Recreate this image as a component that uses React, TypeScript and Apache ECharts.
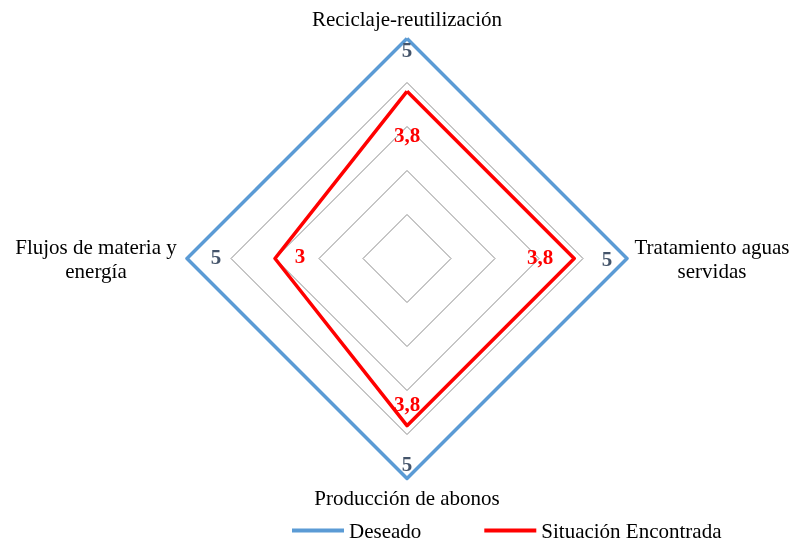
import React, { useEffect, useRef } from "react";
import * as echarts from "echarts";

// Indicators in ECharts radar order (counter-clockwise starting at top)
const indicators = [
  "Reciclaje-reutilización",
  "Flujos de materia y\nenergía",
  "Producción de abonos",
  "Tratamiento aguas\nservidas",
];
const maxValue = 5;
const seriesNames = ["Deseado", "Situación Encontrada"];
const deseado = [5, 5, 5, 5];
const situacion = [3.8, 3, 3.8, 3.8];
const colors = ["#5B9BD5", "#FF0000"];
const labelColors = ["#44546A", "#FF0000"];

// label offsets per dimension (relative to vertex), for [Deseado, Situación]
const labelOffsets: number[][][] = [
  [[0, 11], [0, 44]],
  [[29, -2], [25, -3]],
  [[0, -15], [0, -22]],
  [[-20, 0], [-34, -2]],
];

const FONT = "'Liberation Serif', 'Times New Roman', serif";

const fmt = (v: number) => String(v).replace(".", ",");

export default function App() {
  const ref = useRef<HTMLDivElement>(null);
  useEffect(() => {
    if (!ref.current) return;
    const chart = echarts.init(ref.current, undefined, { renderer: "svg" });
    const values = [deseado, situacion];

    const labelSeries = labelOffsets.map((offs, dim) => ({
      type: "radar",
      silent: true,
      z: 5,
      symbol: "circle",
      symbolSize: 1,
      lineStyle: { opacity: 0, width: 0 },
      itemStyle: { color: "rgba(0,0,0,0)" },
      data: values.map((vals, i) => ({
        name: seriesNames[i] + " #" + dim,
        value: vals,
        label: {
          show: true,
          position: "inside",
          offset: offs[i],
          color: labelColors[i],
          fontFamily: FONT,
          fontWeight: "bold",
          fontSize: 21,
          formatter: (p: any) =>
            p.dimensionIndex === dim ? fmt(p.value as number) : "",
        },
      })),
    }));

    chart.setOption({
      animation: false,
      textStyle: { fontFamily: FONT },
      legend: {
        data: seriesNames,
        left: 287,
        top: 515,
        icon: "rect",
        itemWidth: 52,
        itemHeight: 4,
        itemGap: 63,
        textStyle: { fontFamily: FONT, fontSize: 21, color: "#000" },
      },
      radar: {
        center: [407, 258.5],
        radius: 220,
        startAngle: 90,
        splitNumber: 5,
        nameGap: 9,
        indicator: indicators.map((n) => ({ name: n, max: maxValue, min: 0 })),
        axisName: {
          color: "#000",
          fontFamily: FONT,
          fontSize: 21,
          formatter: (name: string) => {
            if (name.indexOf("\n") < 0) return name;
            const key = name.startsWith("Flujos") ? "l" : "r";
            return name
              .split("\n")
              .map((s) => `{${key}|${s}}`)
              .join("\n");
          },
          rich: {
            l: { width: 164, align: "center", fontSize: 21, fontFamily: FONT, color: "#000", lineHeight: 24 },
            r: { width: 152, align: "center", fontSize: 21, fontFamily: FONT, color: "#000", lineHeight: 24 },
          },
        },
        axisLine: { show: false },
        axisTick: { show: false },
        splitArea: { show: false },
        splitLine: { lineStyle: { color: "#8C8C8C", width: 1 } },
      },
      series: [
        {
          type: "radar",
          symbol: "none",
          z: 3,
          data: values.map((vals, i) => ({
            name: seriesNames[i],
            value: vals,
            lineStyle: { color: colors[i], width: 3.5 },
            itemStyle: { color: colors[i] },
          })),
        },
        ...labelSeries,
      ],
    });
    return () => chart.dispose();
  }, []);
  return (
    <div
      ref={ref}
      style={{ position: "fixed", left: 0, top: 0, width: 796, height: 543 }}
    />
  );
}
